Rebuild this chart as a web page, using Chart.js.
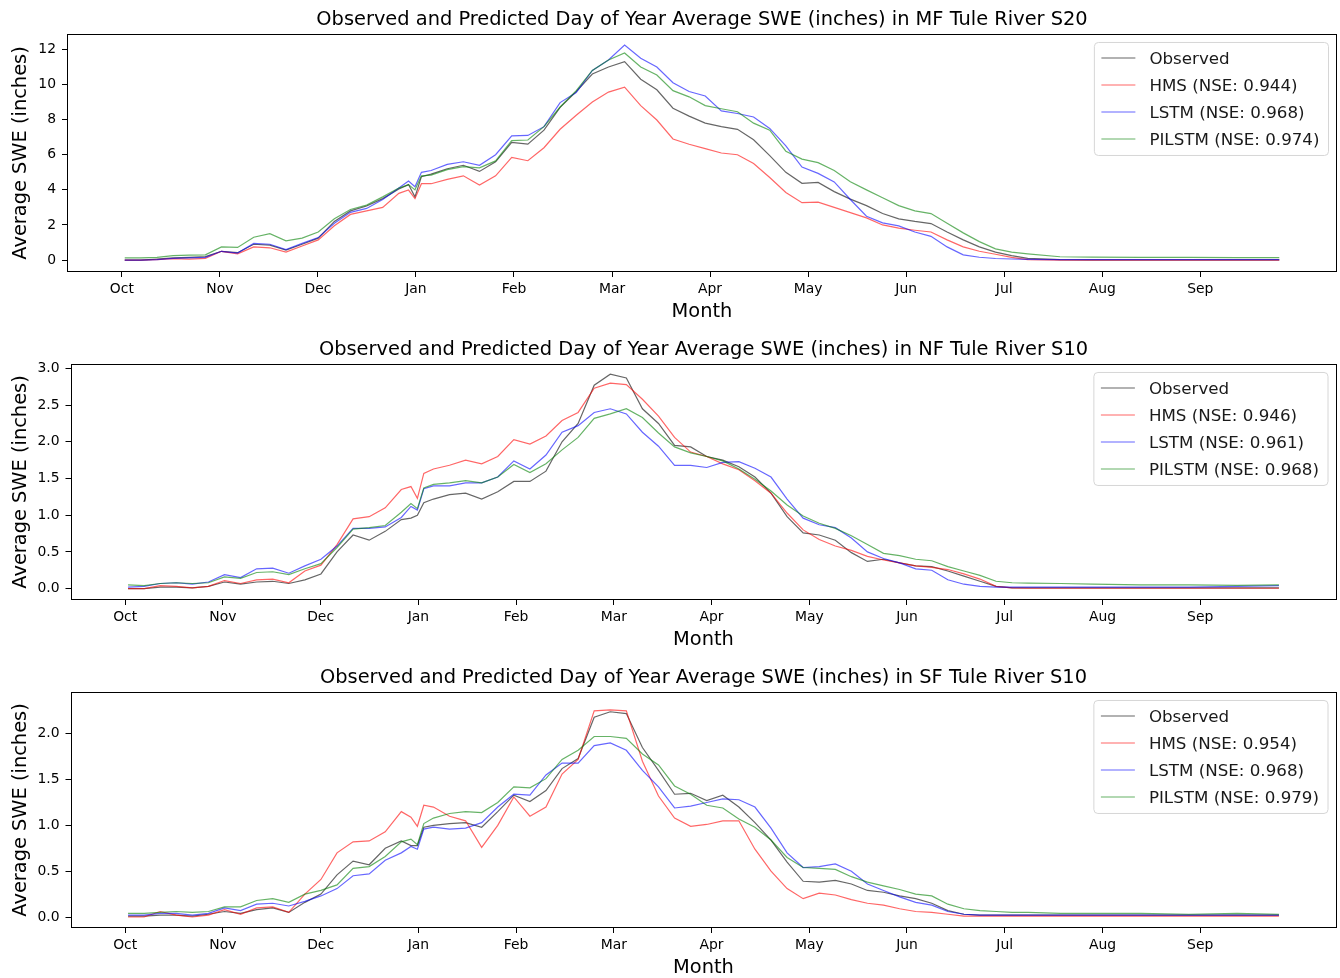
<!DOCTYPE html>
<html>
<head>
<meta charset="utf-8">
<title>Day of Year Average SWE</title>
<script src="https://cdn.jsdelivr.net/npm/chart.js@4.4.1/dist/chart.umd.min.js"></script>
<style>
  body { margin: 0; background: #fff; overflow: hidden; }
  .panel { position: absolute; left: 0; }
</style>
</head>
<body>
<div class="panel" style="top:0"><canvas id="mf" width="1340" height="324"></canvas></div>
<div class="panel" style="top:330px"><canvas id="nf" width="1340" height="322"></canvas></div>
<div class="panel" style="top:658px"><canvas id="sf" width="1340" height="322"></canvas></div>
<script>
// day index counted from Oct 1
const days = [0, 5, 10, 15, 20, 25, 30, 35, 40, 45,
  50, 55, 60, 65, 70, 75, 80, 85, 88, 90,
  92, 95, 100, 105, 110, 115, 120, 125, 130, 135,
  140, 145, 150, 155, 160, 165, 170, 175, 180, 185,
  190, 195, 200, 205, 210, 215, 220, 225, 230, 235,
  240, 245, 250, 255, 260, 265, 270, 275, 280, 290,
  300, 315, 330, 345, 358];

const monthTicks = [-0.9, 29.5, 59.9, 90.3, 120.7, 151.1, 181.5, 211.9, 242.3, 272.7, 303.1, 333.5];
const monthLabels = ['Oct', 'Nov', 'Dec', 'Jan', 'Feb', 'Mar', 'Apr', 'May', 'Jun', 'Jul', 'Aug', 'Sep'];

// MF Tule River S20
const mfObserved = [0, 0, 0.05, 0.12, 0.15, 0.2, 0.5, 0.42, 0.9, 0.85,
  0.57, 0.9, 1.25, 2.2, 2.8, 3.08, 3.5, 4.05, 4.3, 3.6,
  4.75, 4.9, 5.2, 5.4, 5.05, 5.6, 6.7, 6.6, 7.4, 8.7,
  9.6, 10.6, 11.0, 11.3, 10.3, 9.7, 8.65, 8.2, 7.8, 7.6,
  7.45, 6.85, 5.95, 5.0, 4.37, 4.42, 3.9, 3.47, 3.1, 2.65,
  2.35, 2.2, 2.08, 1.6, 1.15, 0.75, 0.45, 0.25, 0.1, 0.02,
  0.01, 0.01, 0.01, 0.01, 0.01];
const mfHms = [0, 0, 0.02, 0.08, 0.05, 0.1, 0.5, 0.35, 0.75, 0.7,
  0.45, 0.8, 1.15, 1.95, 2.6, 2.8, 3.0, 3.8, 3.99, 3.5,
  4.35, 4.35, 4.6, 4.8, 4.27, 4.8, 5.85, 5.66, 6.4, 7.45,
  8.25, 9.0, 9.57, 9.85, 8.8, 7.98, 6.9, 6.6, 6.35, 6.1,
  6.0, 5.5, 4.7, 3.85, 3.27, 3.3, 3.0, 2.7, 2.4, 2.0,
  1.82, 1.7, 1.6, 1.15, 0.75, 0.5, 0.33, 0.15, 0.03, 0,
  0, 0, 0, 0, 0];
const mfLstm = [0, 0, 0.02, 0.1, 0.12, 0.15, 0.5, 0.4, 0.95, 0.9,
  0.6, 0.95, 1.28, 2.1, 2.72, 2.94, 3.45, 4.1, 4.5, 4.18,
  5.0, 5.1, 5.45, 5.6, 5.4, 6.0, 7.07, 7.1, 7.6, 8.97,
  9.55, 10.8, 11.4, 12.25, 11.5, 11.0, 10.1, 9.6, 9.35, 8.5,
  8.35, 8.15, 7.5, 6.5, 5.3, 4.94, 4.45, 3.45, 2.5, 2.12,
  1.95, 1.6, 1.35, 0.75, 0.3, 0.16, 0.09, 0.06, 0.04, 0.03,
  0.03, 0.03, 0.03, 0.03, 0.03];
const mfPilstm = [0.12, 0.12, 0.15, 0.25, 0.28, 0.3, 0.75, 0.72, 1.3, 1.5,
  1.1, 1.25, 1.6, 2.35, 2.88, 3.13, 3.6, 4.1, 4.3, 4.0,
  4.8, 4.84, 5.15, 5.32, 5.25, 5.65, 6.8, 6.84, 7.6, 8.72,
  9.65, 10.8, 11.4, 11.8, 11.0, 10.54, 9.65, 9.3, 8.8, 8.62,
  8.45, 7.8, 7.4, 6.2, 5.75, 5.55, 5.1, 4.46, 4.0, 3.55,
  3.1, 2.8, 2.65, 2.1, 1.55, 1.05, 0.64, 0.45, 0.35, 0.19,
  0.17, 0.15, 0.15, 0.14, 0.14];

// NF Tule River S10
const nfObserved = [0, 0, 0.02, 0.02, 0.01, 0.03, 0.09, 0.06, 0.09, 0.1,
  0.07, 0.12, 0.2, 0.5, 0.73, 0.66, 0.78, 0.94, 0.96, 1.0,
  1.17, 1.22, 1.28, 1.3, 1.22, 1.32, 1.46, 1.46, 1.6, 2.0,
  2.25, 2.77, 2.92, 2.87, 2.45, 2.25, 1.95, 1.93, 1.8, 1.75,
  1.66, 1.52, 1.3, 0.98, 0.76, 0.73, 0.66, 0.49, 0.37, 0.4,
  0.35, 0.31, 0.3, 0.24, 0.17, 0.1, 0.03, 0.01, 0.01, 0.01,
  0.01, 0.01, 0.01, 0.01, 0.01];
const nfHms = [0, 0, 0.04, 0.03, 0.01, 0.03, 0.11, 0.07, 0.12, 0.13,
  0.08, 0.24, 0.32, 0.6, 0.95, 0.98, 1.1, 1.35, 1.39, 1.23,
  1.57, 1.63, 1.68, 1.75, 1.7, 1.8, 2.03, 1.97, 2.08, 2.29,
  2.4, 2.73, 2.8, 2.78, 2.58, 2.35, 2.06, 1.86, 1.8, 1.7,
  1.62, 1.47, 1.3, 1.03, 0.8, 0.67, 0.58, 0.52, 0.44, 0.39,
  0.35, 0.31, 0.29, 0.26, 0.2, 0.13, 0.03, 0.01, 0.005, 0.005,
  0.005, 0.005, 0.005, 0.005, 0.005];
const nfLstm = [0.02, 0.03, 0.07, 0.08, 0.06, 0.09, 0.19, 0.15, 0.27, 0.28,
  0.21, 0.31, 0.4, 0.58, 0.82, 0.82, 0.84, 0.97, 1.12, 1.07,
  1.36, 1.4, 1.4, 1.44, 1.44, 1.52, 1.74, 1.63, 1.82, 2.13,
  2.22, 2.4, 2.45, 2.38, 2.13, 1.94, 1.68, 1.68, 1.65, 1.72,
  1.73, 1.64, 1.52, 1.22, 0.96, 0.87, 0.83, 0.69, 0.5, 0.41,
  0.35, 0.27, 0.25, 0.12, 0.06, 0.03, 0.02, 0.02, 0.02, 0.02,
  0.02, 0.02, 0.02, 0.03, 0.04];
const nfPilstm = [0.05, 0.04, 0.07, 0.08, 0.07, 0.08, 0.16, 0.14, 0.22, 0.23,
  0.19, 0.27, 0.34, 0.56, 0.81, 0.83, 0.86, 1.04, 1.16, 1.09,
  1.37, 1.42, 1.44, 1.47, 1.44, 1.52, 1.69, 1.58, 1.7, 1.89,
  2.06, 2.32, 2.38, 2.45, 2.33, 2.12, 1.93, 1.85, 1.8, 1.74,
  1.63, 1.49, 1.33, 1.14, 0.99, 0.89, 0.82, 0.72, 0.6, 0.48,
  0.45, 0.4, 0.38, 0.3, 0.24, 0.18, 0.1, 0.08, 0.075, 0.07,
  0.06, 0.05, 0.05, 0.045, 0.05];

// SF Tule River S10
const sfObserved = [0.01, 0.01, 0.02, 0.02, 0.01, 0.03, 0.06, 0.04, 0.08, 0.1,
  0.05, 0.16, 0.25, 0.46, 0.61, 0.57, 0.75, 0.83, 0.78, 0.78,
  0.98, 1.0, 1.02, 1.03, 0.98, 1.15, 1.33, 1.26, 1.38, 1.62,
  1.73, 2.18, 2.24, 2.22, 1.85, 1.6, 1.34, 1.35, 1.27, 1.33,
  1.2, 1.03, 0.84, 0.6, 0.39, 0.38, 0.4, 0.36, 0.29, 0.27,
  0.23, 0.2, 0.15, 0.07, 0.03, 0.02, 0.02, 0.02, 0.02, 0.02,
  0.02, 0.02, 0.02, 0.02, 0.02];
const sfHms = [0, 0, 0.06, 0.02, 0, 0.02, 0.08, 0.03, 0.1, 0.11,
  0.05, 0.25, 0.41, 0.7, 0.82, 0.83, 0.93, 1.15, 1.09, 0.99,
  1.22, 1.2, 1.1, 1.05, 0.76, 1.0, 1.31, 1.1, 1.2, 1.56,
  1.72, 2.25, 2.26, 2.25, 1.7, 1.32, 1.08, 0.99, 1.01, 1.05,
  1.05, 0.74, 0.5, 0.31, 0.2, 0.26, 0.24, 0.19, 0.15, 0.13,
  0.09, 0.06, 0.05, 0.03, 0.01, 0.01, 0.01, 0.01, 0.01, 0.01,
  0.01, 0.01, 0.01, 0.01, 0.01];
const sfLstm = [0.02, 0.02, 0.04, 0.04, 0.02, 0.04, 0.1, 0.07, 0.14, 0.15,
  0.12, 0.17, 0.23, 0.31, 0.45, 0.47, 0.62, 0.7, 0.77, 0.74,
  0.96, 0.98, 0.96, 0.97, 1.03, 1.2, 1.34, 1.33, 1.55, 1.68,
  1.68, 1.87, 1.9, 1.82, 1.6, 1.42, 1.19, 1.21, 1.25, 1.29,
  1.28, 1.2, 0.97, 0.7, 0.54, 0.55, 0.58, 0.5, 0.36, 0.29,
  0.22, 0.16, 0.13, 0.06, 0.03, 0.02, 0.02, 0.02, 0.02, 0.02,
  0.02, 0.02, 0.02, 0.02, 0.02];
const sfPilstm = [0.04, 0.04, 0.05, 0.06, 0.05, 0.06, 0.11, 0.11, 0.18, 0.2,
  0.16, 0.25, 0.29, 0.35, 0.53, 0.55, 0.66, 0.82, 0.85, 0.79,
  1.02, 1.08, 1.13, 1.15, 1.14, 1.25, 1.42, 1.41, 1.51, 1.72,
  1.82, 1.97, 1.97, 1.95, 1.78, 1.66, 1.43, 1.34, 1.22, 1.19,
  1.07, 0.98, 0.84, 0.65, 0.54, 0.53, 0.52, 0.44, 0.38, 0.34,
  0.3, 0.25, 0.23, 0.14, 0.09, 0.07, 0.06, 0.05, 0.05, 0.04,
  0.04, 0.04, 0.03, 0.04, 0.03];

const mfNse = ['0.944', '0.968', '0.974'];
const nfNse = ['0.946', '0.961', '0.968'];
const sfNse = ['0.954', '0.968', '0.979'];

const FONT = "'DejaVu Sans', sans-serif";
Chart.defaults.font.family = FONT;
Chart.defaults.color = '#000';

const colors = ['rgba(0,0,0,0.6)', 'rgba(255,0,0,0.6)', 'rgba(0,0,255,0.6)', 'rgba(0,128,0,0.6)'];

// axes frame + matplotlib style legend box
const frameAndLegend = {
  id: 'frameAndLegend',
  afterDraw(chart) {
    const {ctx, chartArea: a} = chart;
    ctx.save();
    ctx.strokeStyle = '#000';
    ctx.lineWidth = 1;
    const l = Math.round(a.left) + 0.5, t = Math.round(a.top) + 0.5;
    const r = Math.round(a.right) - 0.5, b = Math.round(a.bottom) - 0.5;
    ctx.strokeRect(l, t, r - l, b - t);

    const sets = chart.data.datasets;
    ctx.font = '16.7px ' + FONT;
    const textW = Math.max(...sets.map(s => ctx.measureText(s.label).width));
    const w = 55 + textW + 9, h = 113;
    const x = a.right - 8.5 - w, y = a.top + 8.5, rad = 4;
    ctx.beginPath();
    ctx.moveTo(x + rad, y);
    ctx.arcTo(x + w, y, x + w, y + h, rad);
    ctx.arcTo(x + w, y + h, x, y + h, rad);
    ctx.arcTo(x, y + h, x, y, rad);
    ctx.arcTo(x, y, x + w, y, rad);
    ctx.closePath();
    ctx.fillStyle = 'rgba(255,255,255,0.8)';
    ctx.fill();
    ctx.strokeStyle = '#d6d6d6';
    ctx.stroke();

    ctx.textBaseline = 'middle';
    ctx.textAlign = 'left';
    sets.forEach((s, i) => {
      const cy = y + 15.5 + i * 27;
      ctx.beginPath();
      ctx.moveTo(x + 7, cy);
      ctx.lineTo(x + 41, cy);
      ctx.strokeStyle = s.borderColor;
      ctx.lineWidth = s.borderWidth;
      ctx.stroke();
      ctx.fillStyle = '#1a1a1a';
      ctx.fillText(s.label, x + 55, cy + 1.5);
    });
    ctx.restore();
  }
};

function series(values) {
  return days.map((d, i) => ({x: d, y: values[i]}));
}

function makePanel(id, site, obs, hms, lstm, pilstm, nse, yMin, yMax, yStep, yDigits, leftW, rightPad) {
  const names = ['Observed', 'HMS (NSE: ' + nse[0] + ')', 'LSTM (NSE: ' + nse[1] + ')', 'PILSTM (NSE: ' + nse[2] + ')'];
  const values = [obs, hms, lstm, pilstm];
  new Chart(document.getElementById(id), {
    type: 'line',
    data: {
      datasets: values.map((v, i) => ({
        label: names[i],
        data: series(v),
        borderColor: colors[i],
        borderWidth: 1.2,
        pointRadius: 0,
        tension: 0,
        order: 4 - i
      }))
    },
    options: {
      responsive: false,
      animation: false,
      devicePixelRatio: 1,
      layout: {padding: {left: 0, right: rightPad, top: 0, bottom: 0}},
      plugins: {
        legend: {display: false},
        tooltip: {enabled: false},
        title: {
          display: true,
          fullSize: false,
          text: 'Observed and Predicted Day of Year Average SWE (inches) in ' + site,
          color: '#000',
          font: {size: 19.4, weight: 'normal'},
          padding: {top: 8.4, bottom: 2.3}
        }
      },
      scales: {
        x: {
          type: 'linear',
          min: -17.9,
          max: 375.9,
          border: {display: false},
          grid: {drawOnChartArea: false, drawTicks: true, tickLength: 5, color: '#000'},
          afterBuildTicks: (scale) => { scale.ticks = monthTicks.map(v => ({value: v})); },
          afterFit: (scale) => { scale.height = 52; },
          ticks: {
            autoSkip: false,
            maxRotation: 0,
            padding: 4,
            color: '#000',
            font: {size: 13.9},
            callback: (value, index) => monthLabels[index]
          },
          title: {display: true, text: 'Month', color: '#000', font: {size: 19.4}, padding: {top: 0, bottom: 0}}
        },
        y: {
          min: yMin,
          max: yMax,
          border: {display: false},
          grid: {drawOnChartArea: false, drawTicks: true, tickLength: 5, color: '#000'},
          afterFit: (scale) => { scale.width = leftW; },
          ticks: {
            stepSize: yStep,
            includeBounds: false,
            padding: 6,
            color: '#000',
            font: {size: 13.9},
            callback: (value) => value.toFixed(yDigits)
          },
          title: {display: true, text: 'Average SWE (inches)', color: '#000', font: {size: 19.4}, padding: {top: 8.9, bottom: 0}}
        }
      }
    },
    plugins: [frameAndLegend]
  });
}

makePanel('mf', 'MF Tule River S20', mfObserved, mfHms, mfLstm, mfPilstm, mfNse, -0.68, 12.88, 2, 0, 67, 3);
makePanel('nf', 'NF Tule River S10', nfObserved, nfHms, nfLstm, nfPilstm, nfNse, -0.155, 3.06, 0.5, 1, 70.5, 3.5);
makePanel('sf', 'SF Tule River S10', sfObserved, sfHms, sfLstm, sfPilstm, sfNse, -0.12, 2.456, 0.5, 1, 70.5, 3.5);
</script>
</body>
</html>
